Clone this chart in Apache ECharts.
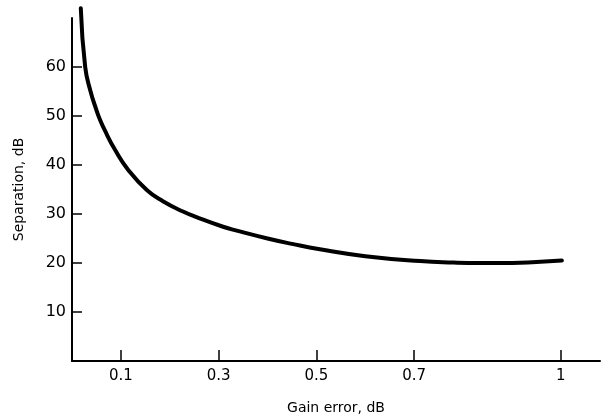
<!DOCTYPE html>
<html>
<head>
<meta charset="utf-8">
<script src="https://cdn.jsdelivr.net/npm/echarts@6/dist/echarts.min.js"></script>
<style>html,body{margin:0;padding:0;background:#fff;}#c{width:602px;height:420px;}</style>
</head>
<body>
<div id="c"></div>
<script>
// Gain error (dB)
var gainError = [0.018, 0.027, 0.038, 0.050, 0.055, 0.067, 0.088, 0.115, 0.153, 0.186, 0.227, 0.256, 0.309, 0.337, 0.4, 0.45, 0.507, 0.6, 0.712, 0.78, 0.834, 0.9, 0.95, 1.002];
// Separation (dB)
var separation = [72.0, 60.0, 55.0, 51.2, 49.8, 47.1, 43.1, 39.0, 34.9, 32.6, 30.5, 29.3, 27.4, 26.6, 25.0, 23.9, 22.8, 21.4, 20.4, 20.1, 20.0, 20.0, 20.2, 20.5];
var xTicks = [0.1, 0.3, 0.5, 0.7, 1];
var yTicks = [10, 20, 30, 40, 50, 60];
var xTitle = 'Gain error, dB';
var yTitle = 'Separation, dB';

var pts = gainError.map(function (x, i) { return [x, separation[i]]; });
var font = 'DejaVu Sans, sans-serif';
var chart = echarts.init(document.getElementById('c'));
chart.setOption({
  animation: false,
  backgroundColor: '#fff',
  grid: { left: 72, right: 2, top: 18, bottom: 59 },
  xAxis: {
    type: 'value', min: 0, max: 1.08,
    name: xTitle, nameLocation: 'middle', nameGap: 40,
    nameTextStyle: { color: '#000', fontSize: 14, fontFamily: font },
    axisLine: { show: true, lineStyle: { color: '#000', width: 2 } },
    axisTick: { show: true, inside: true, length: 11, customValues: xTicks, lineStyle: { color: '#000', width: 1.5 } },
    axisLabel: { customValues: xTicks, color: '#000', fontSize: 15, fontFamily: font, margin: 8,
      formatter: function (v) { return String(v); } },
    splitLine: { show: false }
  },
  yAxis: {
    type: 'value', min: 0, max: 70,
    name: yTitle, nameLocation: 'middle', nameGap: 46, nameRotate: 90,
    nameTextStyle: { color: '#000', fontSize: 14, fontFamily: font },
    axisLine: { show: true, lineStyle: { color: '#000', width: 2 } },
    axisTick: { show: true, inside: true, length: 10, customValues: yTicks, lineStyle: { color: '#000', width: 1.5 } },
    axisLabel: { customValues: yTicks, color: '#000', fontSize: 16, fontFamily: font, margin: 6 },
    splitLine: { show: false }
  },
  series: [{
    type: 'line', data: pts, smooth: 0.5, showSymbol: false, clip: false,
    lineStyle: { color: '#000', width: 4, cap: 'round' }
  }]
});
</script>
</body>
</html>
